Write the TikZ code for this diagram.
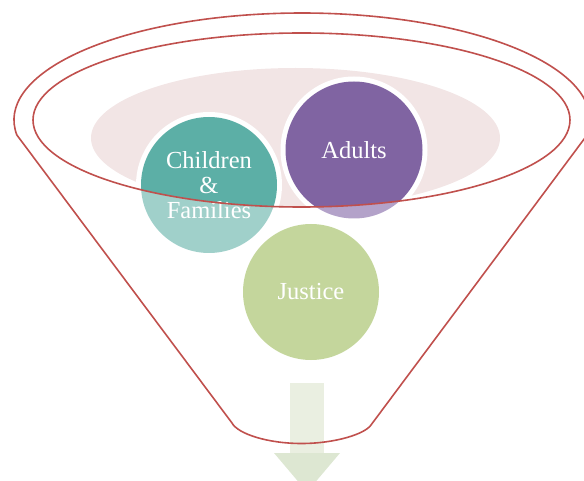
\documentclass[tikz,border=0pt]{standalone}
\usepackage{fontspec}
\setmainfont{Liberation Serif}
\definecolor{funnelred}{HTML}{C0504D}
\definecolor{pinkfill}{HTML}{F2E5E5}
\definecolor{tealdark}{HTML}{5CAFA6}
\definecolor{teallight}{HTML}{A0D0CA}
\definecolor{purpledark}{HTML}{8064A2}
\definecolor{purplelight}{HTML}{B3A2C9}
\definecolor{greenfill}{HTML}{C4D69C}
\definecolor{shaftfill}{HTML}{EAEFE1}
\definecolor{headfill}{HTML}{DDE7D2}
\tikzset{
  funnelline/.style={draw=funnelred, line width=1.6pt, line join=round},
  circlabel/.style={circle, minimum size=136pt, inner sep=0pt, align=center,
    text=white, font=\fontsize{24.5}{25}\selectfont},
}
\begin{document}
\begin{tikzpicture}[x=1pt,y=-1pt]
\useasboundingbox (0,0) rectangle (584,481);
% centres
\coordinate (cC) at (209,185);
\coordinate (cA) at (354,150);
\coordinate (cJ) at (311,292);
% background pink ellipse
\fill[pinkfill] (295.5,138) ellipse[x radius=204.5, y radius=70];
% light (outside) fills
\fill[teallight] (cC) circle[radius=68];
\fill[purplelight] (cA) circle[radius=68.5];
% inside inner ellipse: dark fills with white rims
\begin{scope}
  \clip (301.5,120) ellipse[x radius=268.5, y radius=87];
  \fill[white] (cC) circle[radius=73];
  \fill[white] (cA) circle[radius=73.5];
  \fill[tealdark] (cC) circle[radius=68];
  \fill[purpledark] (cA) circle[radius=68.5];
\end{scope}
% justice circle
\fill[greenfill] (cJ) circle[radius=68];
% arrow
\fill[shaftfill] (290,383) rectangle (324,453);
\fill[headfill] (274,453) -- (340,453) -- (307,492) -- cycle;
% text nodes
\node[circlabel] (children) at (cC) {Children\\\&\\Families};
\node[circlabel] (adults) at (cA) {Adults};
\node[circlabel] (justice) at (cJ) {Justice};
% funnel outline
\coordinate (tl) at (16.8,134.9);
\coordinate (tr) at (587.2,134.9);
\coordinate (bl) at (232,423);
\coordinate (br) at (371,425);
\coordinate (bm) at (301.5,443.5);
\draw[funnelline] (tl) arc[start angle=172, end angle=368, x radius=288, y radius=107]
  -- (br) .. controls (365,434) and (335,443.5) .. (bm)
  .. controls (268,443.5) and (238,434) .. (bl) -- cycle;
\draw[funnelline] (301.5,120) ellipse[x radius=268.5, y radius=87];
\end{tikzpicture}
\end{document}
